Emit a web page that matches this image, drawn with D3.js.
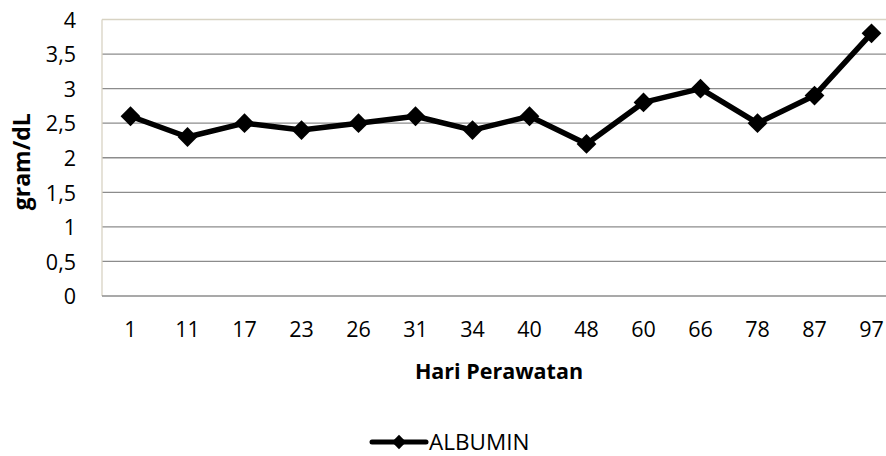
<!DOCTYPE html>
<html>
<head>
<meta charset="utf-8">
<script src="https://cdn.jsdelivr.net/npm/d3@7"></script>
<style>
  body { margin: 0; background: #fff; }
  text { font-family: "Open Sans", "Noto Sans", sans-serif; fill: #000; }
</style>
</head>
<body>
<script>
// data
const days = ["1", "11", "17", "23", "26", "31", "34", "40", "48", "60", "66", "78", "87", "97"];
const albumin = [2.6, 2.3, 2.5, 2.4, 2.5, 2.6, 2.4, 2.6, 2.2, 2.8, 3.0, 2.5, 2.9, 3.8];
const yTicks = [0, 0.5, 1, 1.5, 2, 2.5, 3, 3.5, 4];
const seriesName = "ALBUMIN";

var w = 886;
var h = 456;
var plotLeft = 102, plotRight = 900, plotTop = 19.5, plotBottom = 296;

var svg = d3.select("body").append("svg").attr("width", w).attr("height", h);

var xScale = d3.scaleBand().domain(days).range([plotLeft, plotRight]);
var yScale = d3.scaleLinear().domain([0, 4]).range([plotBottom, plotTop]);

const fmt = d => String(d).replace(".", ",");

// gridlines
svg.append("g")
  .selectAll("line")
  .data(yTicks.filter(d => d > 0 && d < 4))
  .enter()
  .append("line")
  .attr("x1", plotLeft).attr("x2", plotRight)
  .attr("y1", d => yScale(d)).attr("y2", d => yScale(d))
  .attr("stroke", "#8c8c8c").attr("stroke-width", 1.3);

// plot border (top + left, light)
svg.append("line").attr("x1", plotLeft).attr("x2", plotRight)
  .attr("y1", plotTop).attr("y2", plotTop)
  .attr("stroke", "#d8d3c3").attr("stroke-width", 1.3);
svg.append("line").attr("x1", plotLeft).attr("x2", plotLeft)
  .attr("y1", plotTop).attr("y2", plotBottom)
  .attr("stroke", "#d8d3c3").attr("stroke-width", 1.3);

// bottom axis line
svg.append("line").attr("x1", plotLeft).attr("x2", plotRight)
  .attr("y1", plotBottom).attr("y2", plotBottom)
  .attr("stroke", "#8c8c8c").attr("stroke-width", 1.3);

// y axis
var yAxis = d3.axisLeft(yScale).tickValues(yTicks).tickFormat(fmt).tickSize(0).tickPadding(26);
var gy = svg.append("g").attr("transform", "translate(" + plotLeft + ",0)").call(yAxis);
gy.select(".domain").remove();
gy.attr("font-family", null);
gy.selectAll("text").style("font-size", "21.5px").attr("dy", "0.36em");

// x axis
var xAxis = d3.axisBottom(xScale).tickSize(0).tickPadding(26);
var gx = svg.append("g").attr("transform", "translate(0," + plotBottom + ")").call(xAxis);
gx.select(".domain").remove();
gx.attr("font-family", null);
gx.selectAll("text").style("font-size", "21.5px");

// axis titles
svg.append("text")
  .attr("x", 499).attr("y", 379)
  .attr("text-anchor", "middle")
  .style("font-size", "21.5px").style("font-weight", "bold")
  .text("Hari Perawatan");

svg.append("text")
  .attr("transform", "translate(30," + ((plotTop + plotBottom) / 2 + 4) + ") rotate(-90)")
  .attr("text-anchor", "middle")
  .style("font-size", "23px").style("font-weight", "bold")
  .text("gram/dL");

// line
var cx = d => xScale(d) + xScale.bandwidth() / 2;
var line = d3.line()
  .x((d, i) => cx(days[i]))
  .y(d => yScale(d));

svg.append("path")
  .datum(albumin)
  .attr("d", line)
  .attr("fill", "none")
  .attr("stroke", "#000")
  .attr("stroke-width", 5.5)
  .attr("stroke-linejoin", "round");

var diamond = d3.symbol().type(d3.symbolDiamond2).size(250);

svg.append("g")
  .selectAll("path")
  .data(albumin)
  .enter()
  .append("path")
  .attr("d", diamond)
  .attr("transform", (d, i) => "translate(" + cx(days[i]) + "," + yScale(d) + ")")
  .attr("fill", "#000");

// legend
var lg = svg.append("g").attr("transform", "translate(372,442)");
lg.append("line").attr("x1", 0).attr("x2", 54).attr("y1", 0).attr("y2", 0)
  .attr("stroke", "#000").attr("stroke-width", 5).attr("stroke-linecap", "round");
lg.append("path").attr("d", d3.symbol().type(d3.symbolDiamond2).size(130))
  .attr("transform", "translate(27,0)").attr("fill", "#000");
lg.append("text").attr("x", 57).attr("y", 0).attr("dy", "0.36em")
  .style("font-size", "22.5px").text(seriesName);
</script>
</body>
</html>
